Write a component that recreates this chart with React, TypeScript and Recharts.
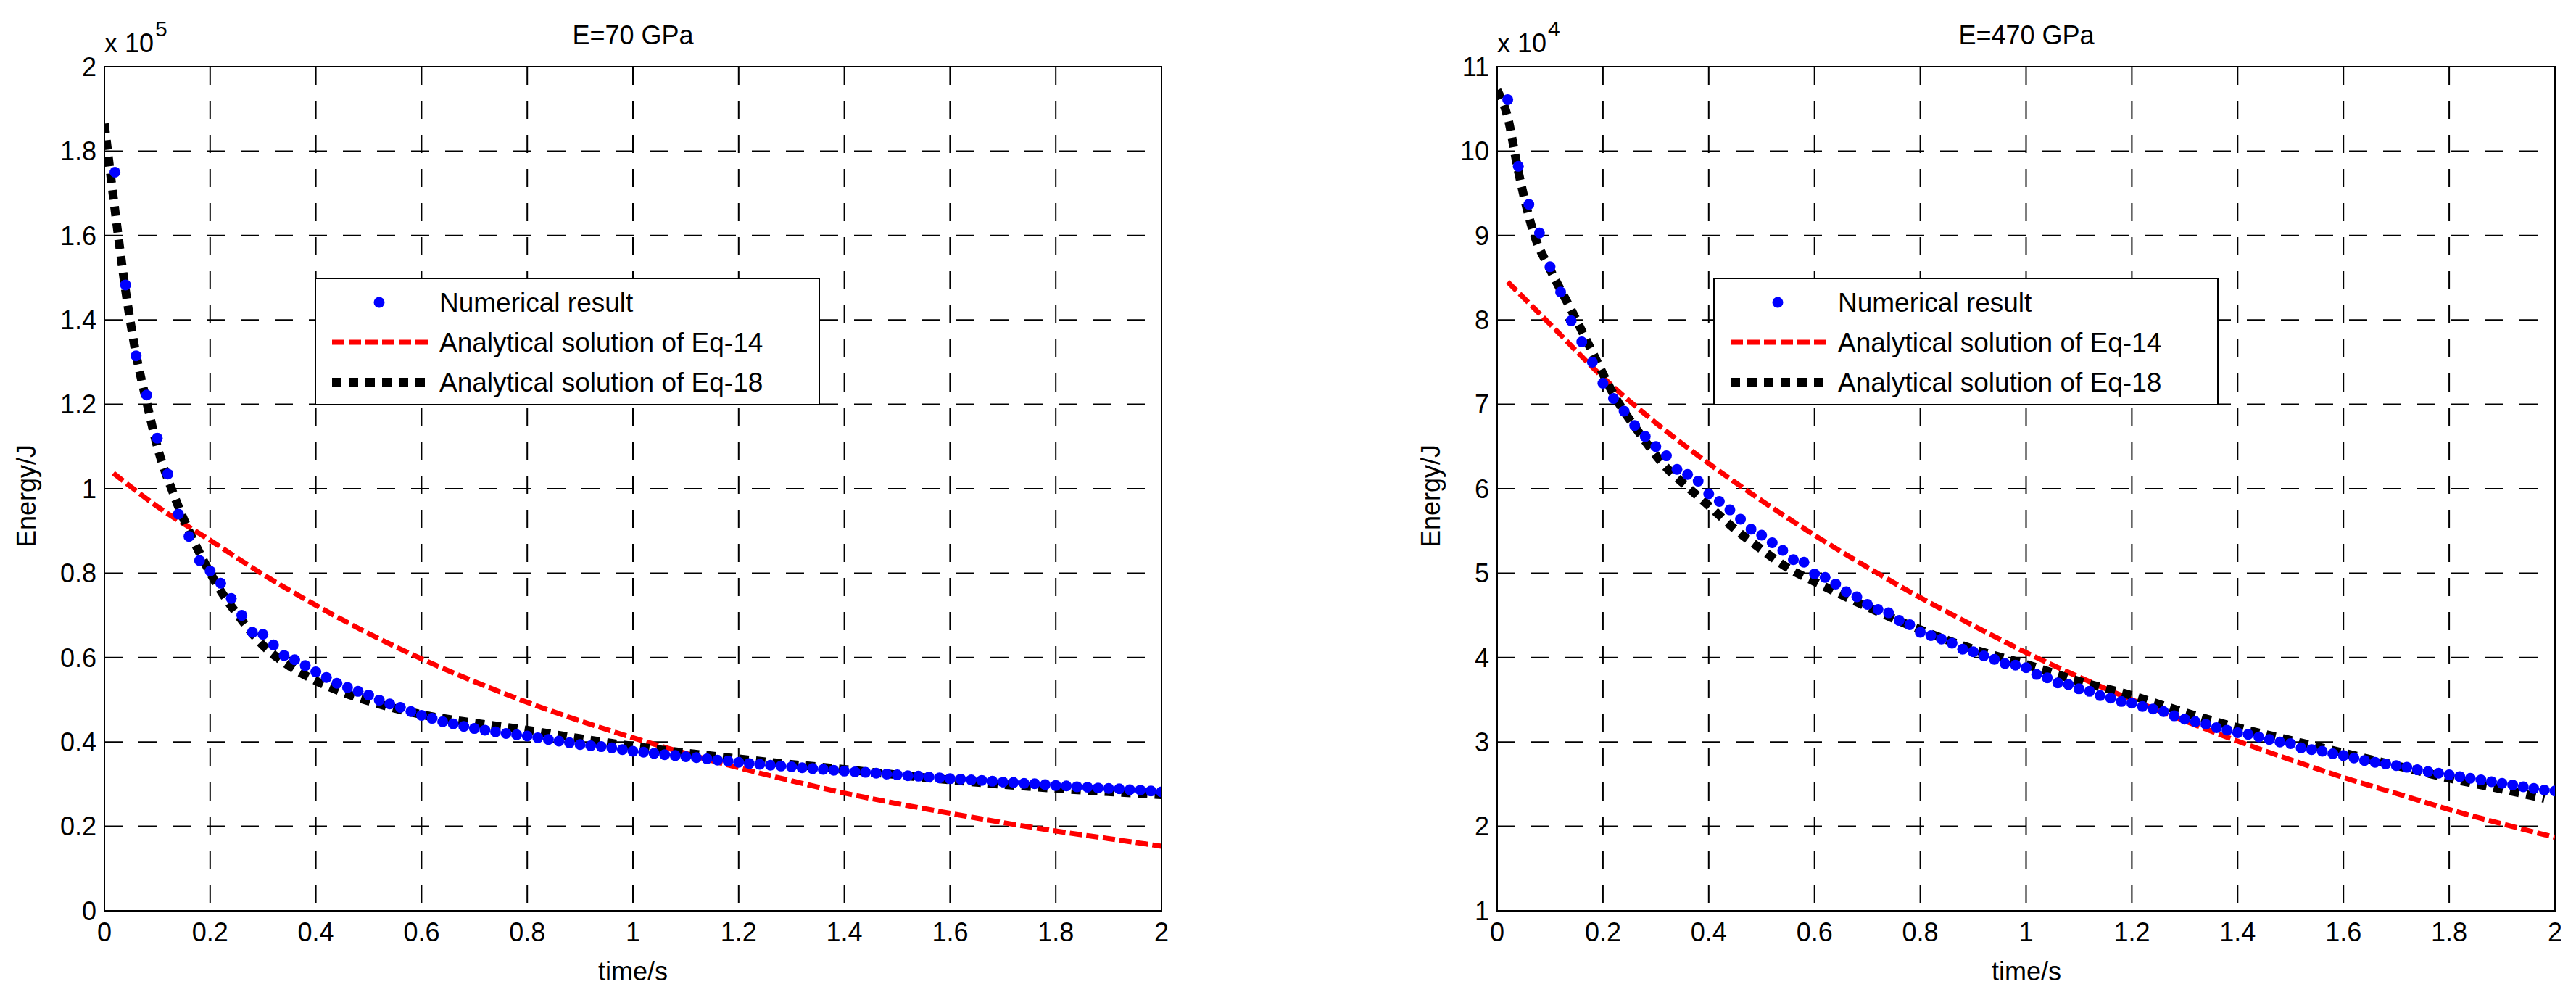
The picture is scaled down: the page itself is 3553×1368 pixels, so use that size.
import React from "react";
import {
  ComposedChart,
  Line,
  Scatter,
  XAxis,
  YAxis,
  CartesianGrid,
  ReferenceArea,
} from "recharts";

const FONT = '"Liberation Sans", Arial, Helvetica, sans-serif';

// time axis of the numerical result (s)
const numTimes = [
  0.02, 0.04, 0.06, 0.08, 0.1, 0.12, 0.14, 0.16, 0.18, 0.2,
  0.22, 0.24, 0.26, 0.28, 0.3, 0.32, 0.34, 0.36, 0.38, 0.4,
  0.42, 0.44, 0.46, 0.48, 0.5, 0.52, 0.54, 0.56, 0.58, 0.6,
  0.62, 0.64, 0.66, 0.68, 0.7, 0.72, 0.74, 0.76, 0.78, 0.8,
  0.82, 0.84, 0.86, 0.88, 0.9, 0.92, 0.94, 0.96, 0.98, 1.0,
  1.02, 1.04, 1.06, 1.08, 1.1, 1.12, 1.14, 1.16, 1.18, 1.2,
  1.22, 1.24, 1.26, 1.28, 1.3, 1.32, 1.34, 1.36, 1.38, 1.4,
  1.42, 1.44, 1.46, 1.48, 1.5, 1.52, 1.54, 1.56, 1.58, 1.6,
  1.62, 1.64, 1.66, 1.68, 1.7, 1.72, 1.74, 1.76, 1.78, 1.8,
  1.82, 1.84, 1.86, 1.88, 1.9, 1.92, 1.94, 1.96, 1.98, 2.0,
];

// E=70 GPa, energy in 1e5 J
const num70 = [
  1.75, 1.483, 1.315, 1.222, 1.12, 1.035, 0.94, 0.887, 0.83, 0.805,
  0.776, 0.74, 0.7, 0.66, 0.655, 0.63, 0.605, 0.595, 0.581, 0.566,
  0.553, 0.539, 0.529, 0.52, 0.511, 0.499, 0.49, 0.482, 0.472, 0.463,
  0.456, 0.448, 0.443, 0.437, 0.432, 0.428, 0.424, 0.42, 0.417, 0.414,
  0.41, 0.406, 0.402, 0.398, 0.394, 0.391, 0.389, 0.386, 0.382, 0.378,
  0.376, 0.373, 0.37, 0.368, 0.365, 0.363, 0.36, 0.357, 0.355, 0.352,
  0.349, 0.347, 0.345, 0.343, 0.341, 0.339, 0.337, 0.335, 0.333, 0.331,
  0.329, 0.328, 0.326, 0.324, 0.322, 0.32, 0.319, 0.317, 0.315, 0.313,
  0.312, 0.31, 0.309, 0.307, 0.305, 0.304, 0.302, 0.301, 0.299, 0.297,
  0.296, 0.294, 0.293, 0.291, 0.29, 0.289, 0.287, 0.286, 0.284, 0.282,
];
const eq14Times70 = [0.017, 0.1, 0.2, 0.3, 0.4, 0.5, 0.6, 0.7, 0.8, 0.9, 1.0, 1.1, 1.2, 1.3, 1.4, 1.5, 1.6, 1.7, 1.8, 1.9, 2.0];
const eq14Values70 = [1.037, 0.958, 0.878, 0.797, 0.724, 0.657, 0.597, 0.543, 0.494, 0.45, 0.41, 0.373, 0.339, 0.308, 0.279, 0.254, 0.231, 0.209, 0.189, 0.171, 0.153];
const eq18Times70 = [0, 0.02, 0.04, 0.06, 0.08, 0.1, 0.13, 0.16, 0.19, 0.22, 0.25, 0.3, 0.35, 0.4, 0.45, 0.5, 0.6, 0.7, 0.8, 0.9, 1.0, 1.2, 1.4, 1.6, 1.8, 2.0];
const eq18Values70 = [1.865, 1.66, 1.47, 1.318, 1.205, 1.1, 0.99, 0.9, 0.824, 0.758, 0.705, 0.629, 0.58, 0.545, 0.518, 0.497, 0.465, 0.445, 0.428, 0.408, 0.39, 0.36, 0.335, 0.31, 0.29, 0.275];

// E=470 GPa, energy in 1e4 J
const num470 = [
  10.61, 9.82, 9.37, 9.03, 8.63, 8.33, 7.99, 7.74, 7.5, 7.25,
  7.07, 6.92, 6.75, 6.62, 6.5, 6.39, 6.23, 6.17, 6.09, 5.94,
  5.85, 5.75, 5.64, 5.52, 5.45, 5.36, 5.27, 5.16, 5.13, 4.99,
  4.95, 4.87, 4.78, 4.72, 4.63, 4.57, 4.53, 4.44, 4.39, 4.3,
  4.26, 4.22, 4.17, 4.1, 4.07, 4.02, 3.98, 3.93, 3.91, 3.88,
  3.8, 3.76, 3.7, 3.68, 3.63, 3.6, 3.55, 3.52, 3.48, 3.46,
  3.42, 3.39, 3.36, 3.31, 3.27, 3.24, 3.21, 3.17, 3.14, 3.11,
  3.09, 3.06, 3.03, 3.0, 2.98, 2.93, 2.91, 2.89, 2.86, 2.84,
  2.81, 2.78, 2.76, 2.74, 2.72, 2.7, 2.67, 2.65, 2.63, 2.61,
  2.59, 2.57, 2.55, 2.53, 2.51, 2.49, 2.47, 2.45, 2.43, 2.42,
];
const eq14Times470 = [0.02, 0.1, 0.2, 0.3, 0.4, 0.5, 0.6, 0.7, 0.8, 0.9, 1.0, 1.1, 1.2, 1.3, 1.4, 1.5, 1.6, 1.7, 1.8, 1.9, 2.0];
const eq14Values470 = [8.45, 7.95, 7.32, 6.78, 6.3, 5.86, 5.45, 5.07, 4.71, 4.38, 4.06, 3.77, 3.5, 3.25, 3.01, 2.79, 2.58, 2.39, 2.2, 2.03, 1.87];
const eq18Times470 = [0, 0.02, 0.04, 0.07, 0.1, 0.14, 0.18, 0.22, 0.27, 0.32, 0.36, 0.4, 0.45, 0.5, 0.55, 0.6, 0.7, 0.8, 0.9, 1.0, 1.1, 1.2, 1.3, 1.4, 1.5, 1.6, 1.7, 1.8, 1.9, 1.98];
const eq18Values470 = [10.72, 10.4, 9.76, 9.01, 8.6, 8.12, 7.62, 7.12, 6.65, 6.25, 6.02, 5.8, 5.52, 5.28, 5.06, 4.9, 4.6, 4.33, 4.1, 3.92, 3.72, 3.55, 3.35, 3.17, 3.02, 2.87, 2.72, 2.57, 2.44, 2.33];

const xTicks = [0, 0.2, 0.4, 0.6, 0.8, 1, 1.2, 1.4, 1.6, 1.8, 2];
const yTicks70 = [0, 0.2, 0.4, 0.6, 0.8, 1, 1.2, 1.4, 1.6, 1.8, 2];
const yTicks470 = [1, 2, 3, 4, 5, 6, 7, 8, 9, 10, 11];

const zip = (ts: number[], vs: number[]) => ts.map((t, i) => ({ t, v: vs[i] }));

const legendItems = ["Numerical result", "Analytical solution of Eq-14", "Analytical solution of Eq-18"];

const RED_DASH = "17 6";
const BLACK_DOT = "13 10";

const dot = (props: any) => <circle cx={props.cx} cy={props.cy} r={7.5} fill="#0000ff" />;

function Panel({ left, width, plotLeft, plotRight, yTicks, numeric, eq14, eq18 }: any) {
  const tickStyle = { fontSize: 36, fill: "#000", fontFamily: FONT };
  return (
    <div style={{ position: "absolute", left, top: 0, width, height: 1368 }}>
      <ComposedChart
        width={width}
        height={1368}
        margin={{ top: 92, right: width - plotRight, bottom: 72, left: plotLeft - 40 }}
      >
        <CartesianGrid
          stroke="#000"
          strokeWidth={2}
          strokeDasharray="25 22"
          horizontalValues={yTicks}
          verticalValues={xTicks}
        />
        <XAxis
          type="number"
          dataKey="t"
          domain={[0, 2]}
          ticks={xTicks}
          allowDataOverflow
          height={40}
          tickLine={false}
          tickSize={0}
          tickMargin={16}
          axisLine={false}
          tick={tickStyle}
        />
        <YAxis
          type="number"
          dataKey="v"
          domain={[yTicks[0], yTicks[yTicks.length - 1]]}
          ticks={yTicks}
          allowDataOverflow
          width={40}
          tickLine={false}
          tickSize={0}
          tickMargin={11}
          axisLine={false}
          tick={tickStyle}
        />
        <Scatter data={numeric} dataKey="v" shape={dot} isAnimationActive={false} />
        <Line
          data={eq14}
          dataKey="v"
          type="monotone"
          stroke="#ff0000"
          strokeWidth={7}
          strokeDasharray={RED_DASH}
          strokeLinecap="butt"
          dot={false}
          activeDot={false}
          isAnimationActive={false}
        />
        <Line
          data={eq18}
          dataKey="v"
          type="monotone"
          stroke="#000"
          strokeWidth={12}
          strokeDasharray={BLACK_DOT}
          strokeLinecap="butt"
          dot={false}
          activeDot={false}
          isAnimationActive={false}
        />
        <ReferenceArea
          x1={0}
          x2={2}
          y1={yTicks[0]}
          y2={yTicks[yTicks.length - 1]}
          fill="none"
          stroke="#000"
          strokeWidth={2}
          ifOverflow="visible"
        />
      </ComposedChart>
    </div>
  );
}

function Legend({ x, y }: { x: number; y: number }) {
  const rows = [33, 88, 143];
  return (
    <g transform={`translate(${x},${y})`}>
      <rect x={0} y={0} width={695} height={174} fill="#fff" stroke="#000" strokeWidth={2} />
      <circle cx={88} cy={rows[0]} r={7.5} fill="#0000ff" />
      <line x1={23} x2={155} y1={rows[1]} y2={rows[1]} stroke="#ff0000" strokeWidth={7} strokeDasharray={RED_DASH} />
      <line x1={23} x2={155} y1={rows[2]} y2={rows[2]} stroke="#000" strokeWidth={12} strokeDasharray={BLACK_DOT} />
      {legendItems.map((s, i) => (
        <text key={s} x={171} y={rows[i] + 13} fontSize={37} fontFamily={FONT} fill="#000">
          {s}
        </text>
      ))}
    </g>
  );
}

function Labels({ cx, plotLeft, yLabelX, title, exp, legendX }: any) {
  return (
    <g fontFamily={FONT} fill="#000">
      <text x={cx} y={61} fontSize={36} textAnchor="middle">{title}</text>
      <text x={plotLeft} y={72} fontSize={36}>x 10</text>
      <text x={plotLeft + 70} y={50} fontSize={30}>{exp}</text>
      <text x={cx} y={1352} fontSize={36} textAnchor="middle">time/s</text>
      <text
        x={0}
        y={0}
        fontSize={36}
        textAnchor="middle"
        transform={`translate(${yLabelX},684) rotate(-90)`}
      >
        Energy/J
      </text>
      <Legend x={legendX} y={384} />
    </g>
  );
}

export default function App() {
  return (
    <div style={{ position: "absolute", left: 0, top: 0, width: 3553, height: 1368, background: "#fff" }}>
      <Panel
        left={0}
        width={1776}
        plotLeft={144}
        plotRight={1602}
        yTicks={yTicks70}
        numeric={zip(numTimes, num70)}
        eq14={zip(eq14Times70, eq14Values70)}
        eq18={zip(eq18Times70, eq18Values70)}
      />
      <Panel
        left={1776}
        width={1777}
        plotLeft={289}
        plotRight={1748}
        yTicks={yTicks470}
        numeric={zip(numTimes, num470)}
        eq14={zip(eq14Times470, eq14Values470)}
        eq18={zip(eq18Times470, eq18Values470)}
      />
      <svg
        width={3553}
        height={1368}
        style={{ position: "absolute", left: 0, top: 0, pointerEvents: "none" }}
      >
        <Labels cx={873} plotLeft={144} yLabelX={49} title="E=70 GPa" exp="5" legendX={435} />
        <Labels cx={2795} plotLeft={2065} yLabelX={1986} title="E=470 GPa" exp="4" legendX={2364} />
      </svg>
    </div>
  );
}
